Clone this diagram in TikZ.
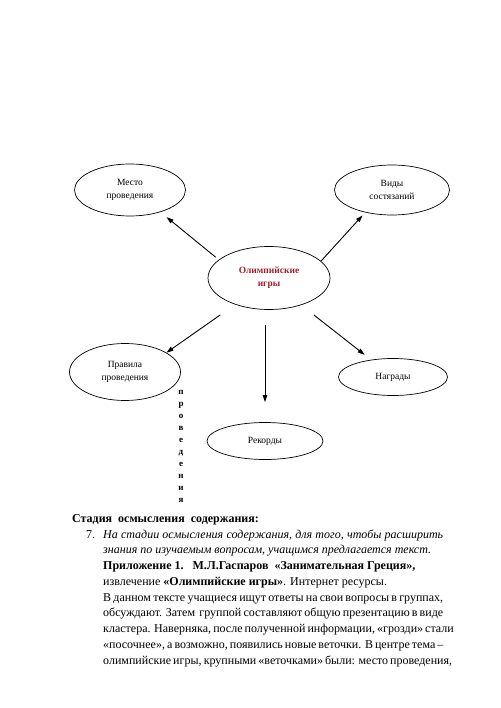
\documentclass[tikz,border=0pt]{standalone}
\usepackage{fontspec}
\setmainfont{Liberation Serif}
\usetikzlibrary{shapes.geometric, arrows.meta}
\definecolor{olred}{RGB}{165,30,40}

\begin{document}
\begin{tikzpicture}[x=1pt, y=-1pt,
	oval/.style={shape=ellipse, draw, line width=0.7pt, inner sep=0pt, align=center, font=\fontsize{9.5}{13}\selectfont},
	branch/.style={-{Triangle[length=7pt, width=4.5pt]}, line width=0.9pt},
	body/.style={font=\fontsize{12}{15.75}\selectfont}]
	\useasboundingbox (0,0) rectangle (500,708);
	% Cluster: ovals and arrows:
	\node[oval, minimum width=122pt, minimum height=63pt, text=olred, font=\fontsize{9.5}{13}\selectfont\bfseries] (games) at (269,278) {Олимпийские\\игры};
	\node[oval, minimum width=111pt, minimum height=52pt] (place) at (130,190) {Место\\проведения};
	\node[oval, minimum width=115pt, minimum height=50pt] (kinds) at (392,190) {Виды\\состязаний};
	\node[oval, minimum width=111pt, minimum height=57pt] (rules) at (125,372) {Правила\\проведения};
	\node[oval, minimum width=116pt, minimum height=37pt] (records) at (265,441) {Рекорды};
	\node[oval, minimum width=109pt, minimum height=37pt] (awards) at (393,377) {Награды};
	\draw[branch, shorten <=4pt, shorten >=8pt] (games.160) -- (place.-36);
	\draw[branch, shorten >=4pt] (games.18) -- (kinds.220);
	\draw[branch, shorten <=18pt] (games.218) -- (rules.25);
	\draw[branch, shorten <=15pt, shorten >=20pt] (games.south -| records.north) -- (records.north);
	\draw[branch, shorten <=16pt, shorten >=8pt] (games.-40) -- (awards.142);
	\node[font=\fontsize{9}{12}\selectfont\bfseries, align=center, anchor=base, inner sep=0pt] (vword) at (181,502) {п\\р\\о\\в\\е\\д\\е\\н\\и\\я};
	% Text below the cluster:
	\node[body, anchor=base west, inner sep=0pt, font=\fontsize{12}{15.75}\selectfont\bfseries] (stage) at (72,522) {Стадия\ \ осмысления\ \ содержания:};
	\node[body, anchor=base west, inner sep=0pt] (num) at (86,538) {7.};
	\node[body, anchor=base west, inner sep=0pt, align=left] (task) at (103,664) {%
		\textit{\makebox[340pt][s]{На стадии осмысления содержания, для того, чтобы расширить}}\\
		\textit{знания по изучаемым вопросам, учащимся предлагается текст.}\\
		\textbf{Приложение 1.\ \ \ М.Л.Гаспаров\ \ «Занимательная Греция»,}\\
		извлечение \textbf{«Олимпийские игры»}. Интернет ресурсы.\\
		\makebox[340pt][s]{В данном тексте учащиеся ищут ответы на свои вопросы в группах,}\\
		\makebox[340pt][s]{обсуждают. Затем\ \ группой составляют общую презентацию в виде}\\
		\makebox[340pt][s]{кластера. Наверняка, после полученной информации, «грозди» стали}\\
		\makebox[340pt][s]{«посочнее», а возможно, появились новые веточки. В центре тема –}\\
		\makebox[340pt][s]{олимпийские игры, крупными «веточками» были: место проведения,}};
\end{tikzpicture}
\end{document}
